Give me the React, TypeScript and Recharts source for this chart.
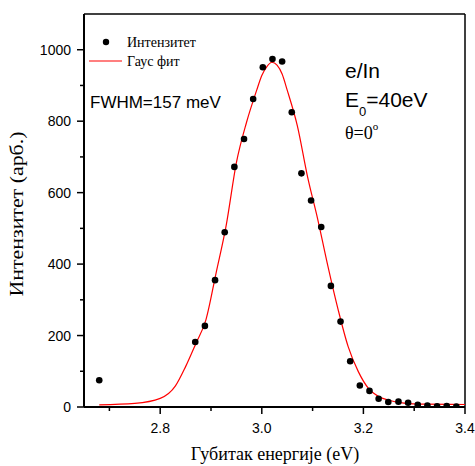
import { ComposedChart, Line, ReferenceLine, Scatter, XAxis, YAxis } from "recharts"

// measured points (eV, arb.)
const pointEnergy = [
  2.68, 2.869, 2.888, 2.908, 2.927, 2.946, 2.965, 2.983, 3.002, 3.021, 3.04,
  3.059, 3.078, 3.097, 3.117, 3.136, 3.155, 3.174, 3.193, 3.212, 3.23, 3.249,
  3.269, 3.288, 3.307, 3.326, 3.345, 3.364, 3.383,
]
const pointIntensity = [
  75, 182, 227, 355, 489, 672, 750, 862, 951, 974, 967, 825, 654, 578, 504,
  339, 239, 128, 60, 45, 23, 14, 15, 12, 6, 4, 2, 3, 1,
]

// gauss fit
const fitEnergy = [
  2.68, 2.75, 2.8, 2.83, 2.85, 2.87, 2.89, 2.91, 2.93, 2.95, 2.97, 2.99, 3.0,
  3.01, 3.02, 3.03, 3.04, 3.05, 3.07, 3.09, 3.11, 3.13, 3.15, 3.17, 3.19, 3.21,
  3.23, 3.25, 3.28, 3.32, 3.4,
]
const fitIntensity = [
  6, 10, 24, 59, 113, 177, 244, 375, 509, 684, 797, 887, 928, 953, 965, 957,
  932, 887, 787, 645, 526, 395, 274, 169, 99, 52, 29, 19, 11, 8, 7,
]

const xTicks = [2.7, 2.8, 2.9, 3.0, 3.1, 3.2, 3.3, 3.4]
const xMajor = [2.8, 3.0, 3.2, 3.4]
const yTicks = [0, 100, 200, 300, 400, 500, 600, 700, 800, 900, 1000]
const yMajor = [0, 200, 400, 600, 800, 1000]

const points = pointEnergy.map((e, i) => ({ e, v: pointIntensity[i] }))
const fit = fitEnergy.map((e, i) => ({ e, v: fitIntensity[i] }))

const SANS = "'Liberation Sans', Arial, sans-serif"
const SERIF = "'Liberation Serif', 'Times New Roman', serif"

const YTick = (props: any) => {
  const { x, y, payload } = props
  const axisX = x + 13
  const major = yMajor.includes(payload.value)
  return (
    <g>
      <line
        x1={axisX - (major ? 7 : 4)}
        x2={axisX}
        y1={y}
        y2={y}
        stroke="#000"
        strokeWidth={1.5}
      />
      {major && (
        <text x={x} y={y} dy="0.36em" textAnchor="end" fontFamily={SANS} fontSize={14} fill="#000">
          {payload.value}
        </text>
      )}
    </g>
  )
}

const XTick = (props: any) => {
  const { x, y, payload } = props
  const axisY = y - 16
  const major = xMajor.some((m) => Math.abs(m - payload.value) < 1e-6)
  return (
    <g>
      <line
        x1={x}
        x2={x}
        y1={axisY}
        y2={axisY + (major ? 7 : 4)}
        stroke="#000"
        strokeWidth={1.5}
      />
      {major && (
        <text x={x} y={y} dy="0.71em" textAnchor="middle" fontFamily={SANS} fontSize={14} fill="#000">
          {payload.value.toFixed(1)}
        </text>
      )}
    </g>
  )
}

export default function App() {
  return (
    <div style={{ position: "absolute", left: 0, top: 0, width: 475, height: 466, background: "#fff" }}>
      <ComposedChart width={475} height={466} margin={{ top: 14, right: 10, left: 0, bottom: 0 }}>
        <XAxis
          dataKey="e"
          type="number"
          domain={[2.65, 3.4]}
          ticks={xTicks}
          interval={0}
          allowDataOverflow
          height={59}
          tickSize={7}
          tickMargin={9}
          tickLine={{ stroke: "none" }}
          axisLine={{ stroke: "#000", strokeWidth: 2 }}
          tick={<XTick />}
        />
        <YAxis
          dataKey="v"
          type="number"
          domain={[0, 1100]}
          ticks={yTicks}
          interval={0}
          allowDataOverflow
          width={84}
          tickSize={7}
          tickMargin={6}
          tickLine={{ stroke: "none" }}
          axisLine={{ stroke: "#000", strokeWidth: 2 }}
          tick={<YTick />}
        />
        <ReferenceLine y={1100} stroke="#000" strokeWidth={1.5} />
        <ReferenceLine x={3.4} stroke="#000" strokeWidth={1.5} />
        <Line
          data={fit}
          dataKey="v"
          type="monotone"
          stroke="#ff0000"
          strokeWidth={1.2}
          dot={false}
          isAnimationActive={false}
        />
        <Scatter
          data={points}
          dataKey="v"
          fill="#000"
          shape={(p: any) => <circle cx={p.cx} cy={p.cy} r={3.3} fill="#000" />}
          isAnimationActive={false}
        />
      </ComposedChart>
      <svg
        width={475}
        height={466}
        style={{ position: "absolute", left: 0, top: 0, pointerEvents: "none" }}
      >
        <text
          transform="translate(23, 214) rotate(-90)"
          textAnchor="middle"
          fontFamily={SERIF}
          fontSize={18}
          textLength={165}
          lengthAdjust="spacingAndGlyphs"
          fill="#000"
        >
          Интензитет (арб.)
        </text>
        <text x={275} y={460} textAnchor="middle" fontFamily={SERIF} fontSize={18} fill="#000">
          Губитак енергије (eV)
        </text>

        <circle cx={106} cy={42} r={3.2} fill="#000" />
        <text x={127} y={47} fontFamily={SERIF} fontSize={14} fill="#000">
          Интензитет
        </text>
        <line x1={89} x2={122} y1={61} y2={61} stroke="#ff0000" strokeWidth={1.2} />
        <text x={127} y={66} fontFamily={SERIF} fontSize={14} fill="#000">
          Гаус фит
        </text>

        <text x={90} y={108} fontFamily={SANS} fontSize={17} fill="#000">
          FWHM=157 meV
        </text>
        <text x={345} y={78} fontFamily={SANS} fontSize={21} fill="#000">
          e/In
        </text>
        <text x={345} y={107} fontFamily={SANS} fontSize={21} fill="#000">
          E
          <tspan fontSize={13} dy={9}>0</tspan>
          <tspan dy={-9}>=40eV</tspan>
        </text>
        <text x={345} y={139} fontFamily={SERIF} fontSize={18} fill="#000">
          θ=0
          <tspan fontSize={11} dy={-9}>o</tspan>
        </text>
      </svg>
    </div>
  )
}
